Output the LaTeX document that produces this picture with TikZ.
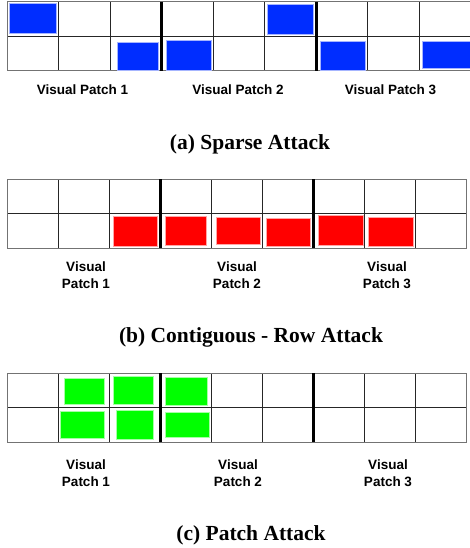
\documentclass[tikz,border=0pt]{standalone}
\usepackage{fontspec}
\setmainfont{Liberation Serif}
\newfontfamily\arialfont{Liberation Sans}
\definecolor{atkblue}{RGB}{0,45,255}
\definecolor{atkred}{RGB}{255,0,0}
\definecolor{atkgreen}{RGB}{0,255,0}
\tikzset{
  cellline/.style={draw=black!85, line width=0.8pt},
  outerline/.style={draw=black!55, line width=1pt},
  divider/.style={draw=black, line width=3pt},
  patchlabel/.style={font=\arialfont\bfseries\fontsize{13.5}{17}\selectfont, align=center, inner sep=0pt},
  captionlabel/.style={font=\bfseries\fontsize{21.5}{24}\selectfont, inner sep=0pt},
  bluecell/.style={fill=atkblue, draw=atkblue!35, line width=0.7pt},
  redcell/.style={fill=atkred, draw=atkred!35, line width=0.7pt},
  greencell/.style={fill=atkgreen, draw=atkgreen!35, line width=0.7pt},
}
\begin{document}
\begin{tikzpicture}[x=1pt,y=-1pt]
\useasboundingbox (0,0) rectangle (469,548);
\fill[white] (0,0) rectangle (469,548);

% ---------- (a) grid ----------
\foreach \i in {1,2,4,5,7,8} {
  \draw[cellline] ({7+\i*51.55},2) -- ({7+\i*51.55},71);
}
\draw[cellline] (7,36.5) -- (472,36.5);
\draw[outerline] (7,2) rectangle (471,71);
\draw[divider] (161.7,2) -- (161.7,71);
\draw[divider] (316.3,2) -- (316.3,71);
% blue cells
\draw[bluecell] (9,3.5) rectangle (56,33);
\draw[bluecell] (117,42) rectangle (158,70);
\draw[bluecell] (166,40) rectangle (211,70);
\draw[bluecell] (267,4) rectangle (313,34);
\draw[bluecell] (320,41) rectangle (365,70);
\draw[bluecell] (422,41) rectangle (472,68);
\node[patchlabel] (a1) at (82.5,90) {Visual Patch 1};
\node[patchlabel] (a2) at (238,90) {Visual Patch 2};
\node[patchlabel] (a3) at (390.5,90) {Visual Patch 3};
\node[captionlabel] (capa) at (250,144) {(a) Sparse Attack};

% ---------- (b) grid ----------
\foreach \i in {1,2,4,5,7,8} {
  \draw[cellline] ({7+\i*51},179) -- ({7+\i*51},248);
}
\draw[cellline] (7,213.3) -- (466,213.3);
\draw[outerline] (7,179) rectangle (466,248);
\draw[divider] (160.5,179) -- (160.5,248);
\draw[divider] (313.5,179) -- (313.5,248);
% red cells
\draw[redcell] (113,216) rectangle (157,246);
\draw[redcell] (165,216) rectangle (206,245);
\draw[redcell] (216,217) rectangle (260,244);
\draw[redcell] (266,218) rectangle (310,246);
\draw[redcell] (318,215) rectangle (363,245);
\draw[redcell] (368,217) rectangle (413,246);
\node[patchlabel] (b1) at (86,275.5) {Visual\\Patch 1};
\node[patchlabel] (b2) at (237,275.5) {Visual\\Patch 2};
\node[patchlabel] (b3) at (387,275.5) {Visual\\Patch 3};
\node[captionlabel] (capb) at (251,337) {(b) Contiguous - Row Attack};

% ---------- (c) grid ----------
\foreach \i in {1,2,4,5,7,8} {
  \draw[cellline] ({7+\i*51},373) -- ({7+\i*51},442);
}
\draw[cellline] (7,407.3) -- (466,407.3);
\draw[outerline] (7,373) rectangle (466,442);
\draw[divider] (160.5,373) -- (160.5,442);
\draw[divider] (313.5,373) -- (313.5,442);
% green cells
\draw[greencell] (64,378) rectangle (104,404);
\draw[greencell] (113,376) rectangle (153,404);
\draw[greencell] (165,377) rectangle (207,405);
\draw[greencell] (60,411) rectangle (104,438);
\draw[greencell] (116,410) rectangle (153,439);
\draw[greencell] (165,412) rectangle (209,437);
\node[patchlabel] (c1) at (86,473.5) {Visual\\Patch 1};
\node[patchlabel] (c2) at (238,473.5) {Visual\\Patch 2};
\node[patchlabel] (c3) at (388,473.5) {Visual\\Patch 3};
\node[captionlabel] (capc) at (251,535) {(c) Patch Attack};
\end{tikzpicture}
\end{document}
